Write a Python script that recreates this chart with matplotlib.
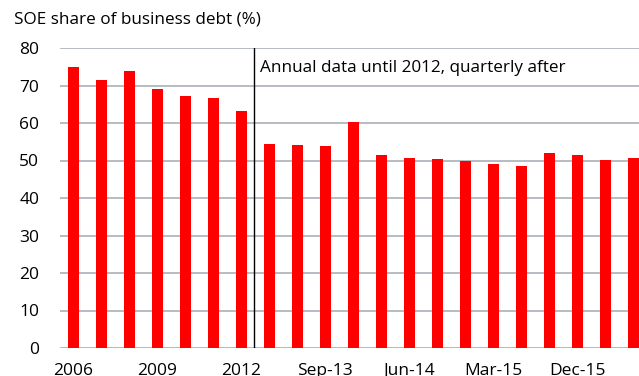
import matplotlib.pyplot as plt
import numpy as np

plt.rcParams['font.family'] = ['Open Sans', 'DejaVu Sans']

periods = ['2006', '2007', '2008', '2009', '2010', '2011', '2012',
           'Mar-13', 'Jun-13', 'Sep-13', 'Dec-13', 'Mar-14', 'Jun-14', 'Sep-14',
           'Dec-14', 'Mar-15', 'Jun-15', 'Sep-15', 'Dec-15', 'Mar-16', 'Jun-16']
soe_share = [74.9, 71.6, 73.9, 69.2, 67.2, 66.6, 63.2,
             54.3, 54.1, 53.9, 60.2, 51.5, 50.8, 50.4,
             49.9, 49.2, 48.5, 52.1, 51.5, 50.1, 50.6]
shown_labels = ['2006', '2009', '2012', 'Sep-13', 'Jun-14', 'Mar-15', 'Dec-15']
y_ticks = [0, 10, 20, 30, 40, 50, 60, 70, 80]

W, H = 639, 376
fig = plt.figure(figsize=(W / 100, H / 100), dpi=100)
ax = fig.add_axes([60 / W, (H - 348) / H, (639 - 60) / W, 300 / H])

x = np.arange(len(periods))
ax.bar(x, soe_share, width=0.4, color='#ff0000', zorder=3)

ax.set_ylim(0, 80)
ax.set_xlim(-0.48, 20.2)
ax.set_yticks(y_ticks)
ax.yaxis.grid(True, color='#a9b0b8', linewidth=1.2, zorder=0)
ax.tick_params(axis='both', length=0, labelsize=12.5, colors='black')
ax.tick_params(axis='y', pad=15)
ax.tick_params(axis='x', pad=11)

tick_pos = [periods.index(s) for s in shown_labels]
ax.set_xticks(tick_pos)
ax.set_xticklabels(shown_labels)

for s in ax.spines.values():
    s.set_visible(False)

# break between annual and quarterly data
ax.axvline(6.45, color='black', linewidth=1, zorder=4)
ax.text(6.68, 74.8, 'Annual data until 2012, quarterly after', fontsize=12.3,
        va='center', ha='left')

fig.text(14 / W, 1 - 20 / H, 'SOE share of business debt (%)', fontsize=12.3,
         va='center', ha='left')

fig.savefig('out.png', dpi=100)
